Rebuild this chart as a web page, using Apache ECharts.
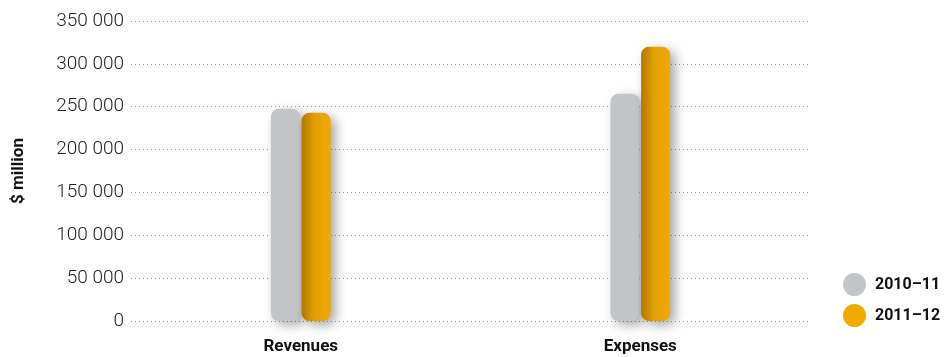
<!DOCTYPE html>
<html>
<head>
<meta charset="utf-8">
<script src="https://cdn.jsdelivr.net/npm/echarts@6/dist/echarts.min.js"></script>
<style>
  html, body { margin: 0; padding: 0; background: #fff; }
  #chart { width: 949px; height: 357px; }
</style>
</head>
<body>
<div id="chart"></div>
<script>
const categories = ['Revenues', 'Expenses'];
const seriesNames = ['2010–11', '2011–12'];
const values2010 = [247500, 265000];
const values2011 = [243000, 320000];

const chart = echarts.init(document.getElementById('chart'), null, { renderer: 'canvas' });

const gray = '#c4c5c9';
const orange = '#f0aa00';
const orangeGrad = new echarts.graphic.LinearGradient(0, 0, 1, 0, [
  { offset: 0, color: '#b07800' },
  { offset: 0.45, color: '#e3a000' },
  { offset: 1, color: '#f0aa00' },
]);

const barShadow = {
  shadowBlur: 12,
  shadowColor: 'rgba(0,0,0,0.35)',
  shadowOffsetX: 5,
  shadowOffsetY: 4,
};

chart.setOption({
  animation: false,
  textStyle: { fontFamily: 'Roboto' },
  legend: {
    orient: 'vertical',
    left: 838,
    top: 268,
    icon: 'circle',
    itemWidth: 23,
    itemHeight: 23,
    itemGap: 8,
    textStyle: { color: '#111', fontSize: 16, fontWeight: 'bold', padding: [0, 0, 0, 4] },
    data: [
      { name: seriesNames[0], itemStyle: { color: gray, shadowBlur: 0, shadowOffsetX: 0, shadowOffsetY: 0 } },
      { name: seriesNames[1], itemStyle: { color: orange, shadowBlur: 0, shadowOffsetX: 0, shadowOffsetY: 0 } },
    ],
  },
  grid: { left: 131, right: 139, top: 21, bottom: 36 },
  xAxis: {
    type: 'category',
    data: categories,
    axisLine: { show: false },
    axisTick: { show: false },
    axisLabel: { color: '#111', fontSize: 17, fontWeight: 'bold', margin: 17 },
  },
  yAxis: {
    type: 'value',
    min: 0,
    max: 350000,
    interval: 50000,
    name: '$ million',
    nameLocation: 'middle',
    nameGap: 104,
    nameRotate: 90,
    nameTextStyle: { color: '#111', fontSize: 17, fontWeight: 'bold' },
    axisLine: { show: false },
    axisTick: { show: false },
    axisLabel: {
      color: '#222',
      fontSize: 19,
      fontWeight: 300,
      margin: 7,
      formatter: (v) => String(v).replace(/\B(?=(\d{3})+(?!\d))/g, ' '),
    },
    splitLine: { lineStyle: { color: '#999', type: [1, 3], width: 1 } },
  },
  series: [
    {
      name: seriesNames[0],
      type: 'bar',
      data: values2010,
      barWidth: 29,
      barGap: '6%',
      itemStyle: Object.assign({ color: gray, borderRadius: 8 }, barShadow),
    },
    {
      name: seriesNames[1],
      type: 'bar',
      data: values2011,
      barWidth: 29,
      itemStyle: Object.assign({ color: orangeGrad, borderRadius: 8 }, barShadow),
    },
  ],
});
</script>
</body>
</html>
